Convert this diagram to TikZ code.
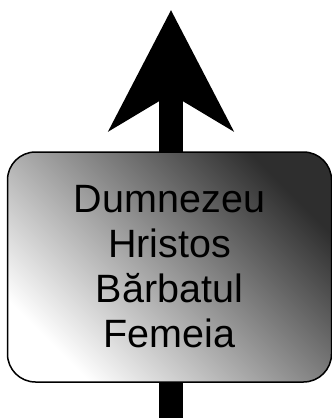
\documentclass[tikz,border=0pt]{standalone}
\usepackage{fontspec}
\setmainfont{Liberation Sans}
\usetikzlibrary{arrows.meta}

\begin{document}
\begin{tikzpicture}[x=1pt,y=-1pt,
  sign/.style={draw=black, line width=1.5pt, rounded corners=28pt,
    top color=black!82, bottom color=white, shading angle=-45,
    minimum width=324pt, minimum height=230pt, inner sep=0pt,
    align=center, font=\fontsize{39.5}{45}\selectfont}]
\useasboundingbox (0,0) rectangle (332,418);

\coordinate (tail) at (171,418);
\coordinate (tip) at (171,10);
\draw[line width=24pt,-{Stealth[length=120pt,width=123pt,inset=36pt]}] (tail) -- (tip);

\node[sign] (ranks) at (169.5,267) {Dumnezeu\\Hristos\\Bărbatul\\Femeia};
\end{tikzpicture}
\end{document}
